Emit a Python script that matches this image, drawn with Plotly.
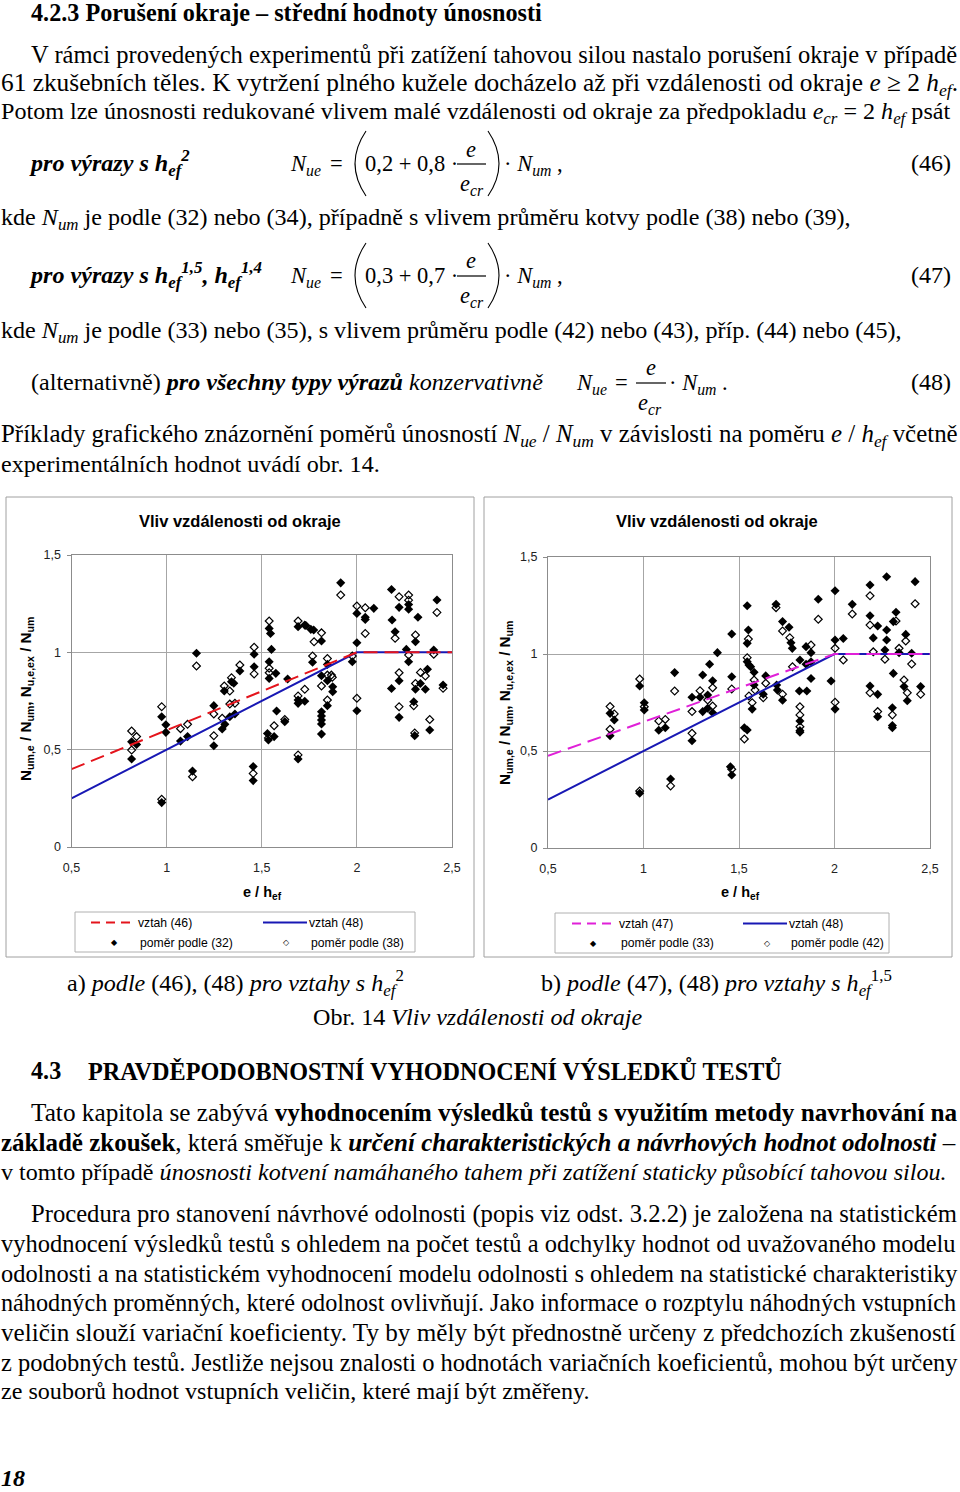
import plotly.graph_objects as go

W, H = 960, 1492
SERIF = "Liberation Serif"
SANS = "Liberation Sans"

# ---------------- data ----------------
X_TICKS = [0.5, 1, 1.5, 2, 2.5]
X_TICK_TEXT = ["0,5", "1", "1,5", "2", "2,5"]
Y_TICKS = [0, 0.5, 1, 1.5]
Y_TICK_TEXT = ["0", "0,5", "1", "1,5"]

LINE_X = [0.5, 2.0, 2.5]
LINE46_Y = [0.40, 1.0, 1.0]
LINE47_Y = [0.475, 1.0, 1.0]
LINE48_Y = [0.25, 1.0, 1.0]

# chart a) ratio according to (32)  (filled)
A32_X = [0.816, 0.816, 0.842, 0.974, 0.974, 0.996, 0.996, 1.073, 1.110, 1.157, 1.136, 1.248, 1.248,
         1.292, 1.306, 1.303, 1.341, 1.353, 1.332, 1.359, 1.385, 1.460, 1.460, 1.455, 1.455,
         1.915, 1.539, 1.546, 1.551, 1.539, 1.539, 1.574, 1.578, 1.565, 1.530, 1.535, 1.621, 1.636,
         1.691, 1.726, 1.732, 1.691, 1.691, 1.691, 1.726, 1.758, 1.773, 1.814, 1.767, 1.814, 1.814,
         1.814, 1.814, 1.814, 1.814, 1.845, 1.845, 1.845, 1.873, 1.873, 1.976, 2.000, 2.000, 2.000,
         2.044, 2.044, 2.089, 2.182, 2.222, 2.185, 2.201, 2.272, 2.272, 2.321, 2.308, 2.260, 2.272,
         2.222, 2.182, 2.222, 2.308, 2.334, 2.371, 2.360, 2.299, 2.304, 2.383, 2.404, 2.421, 2.453]
A32_Y = [0.541, 0.452, 0.527, 0.228, 0.669, 0.628, 0.589, 0.544, 0.567, 0.995, 0.390, 0.726, 0.520,
         0.606, 0.630, 0.801, 0.849, 0.841, 0.669, 0.683, 0.904, 0.990, 0.926, 0.413, 0.341,
         1.357, 1.123, 1.097, 1.015, 0.952, 0.866, 0.892, 0.699, 0.567, 0.583, 0.550, 0.644, 0.863,
         1.132, 1.140, 1.138, 0.755, 0.738, 0.452, 0.749, 1.118, 1.115, 1.058, 0.949, 0.880, 0.695,
         0.673, 0.652, 0.632, 0.580, 0.938, 0.854, 0.726, 0.823, 0.798, 0.952, 1.200, 1.049, 0.700,
         1.180, 1.169, 1.226, 1.323, 1.231, 1.166, 1.106, 1.246, 1.221, 1.180, 1.054, 1.015, 0.952,
         0.854, 0.814, 0.666, 0.810, 0.840, 0.913, 0.810, 0.746, 0.572, 0.601, 1.012, 1.269, 0.832]

# chart a) ratio according to (38)  (open)
A38_X = [0.816, 0.816, 0.842, 0.974, 0.974, 1.073, 1.110, 1.157, 1.136, 1.248, 1.248, 1.292, 1.303,
         1.332, 1.341, 1.332, 1.359, 1.385, 1.460, 1.460, 1.455,
         1.915, 1.539, 1.539, 1.539, 1.565, 1.535, 1.621, 1.691, 1.691, 1.691, 1.726, 1.775, 1.814,
         1.767, 1.814, 1.845, 1.845, 1.845, 1.866, 1.871, 1.976, 2.000, 2.000, 2.044, 2.044, 2.222,
         2.201, 2.272, 2.272, 2.308, 2.272, 2.222, 2.222, 2.308, 2.334, 2.360, 2.299, 2.304, 2.383,
         2.404, 2.421, 2.453]
A38_Y = [0.596, 0.498, 0.567, 0.245, 0.721, 0.608, 0.630, 0.930, 0.361, 0.683, 0.572, 0.661, 0.827,
         0.801, 0.870, 0.734, 0.738, 0.935, 1.026, 0.889, 0.378,
         1.294, 1.161, 0.918, 0.895, 0.623, 0.560, 0.655, 1.161, 0.776, 0.473, 0.810, 1.054, 1.100,
         0.981, 0.827, 0.968, 0.883, 0.755, 0.883, 0.872, 0.981, 1.238, 0.764, 1.229, 1.097, 1.286,
         1.072, 1.294, 1.268, 1.089, 0.986, 0.895, 0.721, 0.840, 0.897, 0.878, 0.726, 0.586, 0.655,
         0.990, 1.205, 0.815]

# chart b) ratio according to (33)  (filled)
B33_X = [0.825, 0.847, 0.825, 0.980, 1.004, 1.004, 0.980, 1.080, 1.114, 1.163, 1.142, 1.254, 1.254,
         1.310, 1.296, 1.310, 1.336, 1.336, 1.346, 1.362, 1.362, 1.387, 1.462, 1.462, 1.455, 1.462,
         1.543, 1.549, 1.543, 1.543, 1.552, 1.561, 1.579, 1.579, 1.569, 1.528, 1.543, 1.640, 1.627,
         1.694, 1.697, 1.701, 1.728, 1.762, 1.772, 1.779, 1.728, 1.819, 1.816, 1.855, 1.819, 1.819,
         1.819, 1.851, 1.851, 1.877, 1.877, 1.877, 1.915, 1.982, 2.003, 2.003, 2.003, 2.046, 2.093,
         2.186, 2.186, 2.203, 2.226, 2.273, 2.273, 2.273, 2.264, 2.322, 2.308, 2.338, 2.308, 2.186,
         2.226, 2.226, 2.303, 2.303, 2.303, 2.373, 2.404, 2.364, 2.381, 2.422, 2.451]
B33_Y = [0.694, 0.660, 0.579, 0.835, 0.749, 0.711, 0.282, 0.607, 0.620, 0.904, 0.356, 0.777, 0.553,
         0.892, 0.777, 0.703, 0.789, 0.720, 0.947, 0.862, 0.697, 1.007, 1.103, 0.883, 0.419, 0.376,
         1.249, 1.124, 1.055, 0.960, 0.943, 0.934, 0.906, 0.840, 0.716, 0.620, 0.608, 0.887, 0.793,
         1.256, 0.840, 0.814, 1.167, 1.138, 1.058, 1.029, 0.762, 0.969, 0.809, 0.809, 0.655, 0.605,
         0.597, 1.038, 0.947, 1.007, 0.960, 0.874, 1.282, 0.861, 1.326, 1.072, 0.716, 1.080, 1.256,
         1.356, 1.197, 1.083, 1.144, 1.398, 1.124, 1.072, 1.021, 1.215, 1.167, 1.007, 0.900, 0.835,
         0.792, 0.677, 0.723, 0.631, 0.620, 1.101, 1.004, 0.832, 0.759, 1.373, 0.832]

# chart b) ratio according to (42)  (open)
B42_X = [0.825, 0.847, 0.825, 0.980, 1.004, 0.980, 1.080, 1.114, 1.163, 1.142, 1.254, 1.254, 1.296,
         1.336, 1.362, 1.362, 1.462, 1.462,
         1.549, 1.543, 1.579, 1.584, 1.552, 1.569, 1.528, 1.640, 1.627, 1.694, 1.728, 1.766, 1.780,
         1.728, 1.819, 1.819, 1.819, 1.877, 1.915, 2.003, 2.003, 2.046, 2.093, 2.186, 2.186, 2.203,
         2.264, 2.322, 2.338, 2.186, 2.226, 2.303, 2.373, 2.404, 2.364, 2.381, 2.422, 2.451]
B42_Y = [0.729, 0.691, 0.612, 0.871, 0.728, 0.294, 0.655, 0.663, 0.809, 0.320, 0.703, 0.591, 0.811,
         0.763, 0.826, 0.732, 0.820, 0.406,
         1.077, 0.981, 0.866, 0.814, 0.784, 0.749, 0.562, 0.849, 0.775, 1.239, 1.119, 1.084, 0.934,
         0.793, 0.728, 0.686, 0.625, 1.046, 1.179, 1.029, 0.751, 0.969, 1.206, 1.300, 1.149, 1.011,
         0.973, 1.170, 1.029, 0.800, 0.703, 0.686, 1.067, 0.948, 0.866, 0.800, 1.259, 0.792]

CHART_TITLE = "Vliv vzdálenosti od okraje"
X_TITLE = "e / h<sub>ef</sub>"
Y_TITLE = "N<sub>um,e</sub> / N<sub>um</sub>, N<sub>u,e,ex</sub> / N<sub>um</sub>"
LEG_A = ["vztah (46)", "vztah (48)", "poměr podle (32)", "poměr podle (38)"]
LEG_B = ["vztah (47)", "vztah (48)", "poměr podle (33)", "poměr podle (42)"]

RED = "#e4141c"
BLUE = "#1818b4"
MAGENTA = "#e020d8"
GRID = "#a6a6a6"
AXIS = "#8c8c8c"
FS = 24.1   # body font size
FF = 22.5   # formula font size


# --------------- helpers -----------------
def px(x):
    return x / W


def py(y):
    return 1 - y / H


annotations = []
shapes = []


def txt(x, y, s, size=FS, anchor="left", family=SERIF, color="black", angle=0):
    annotations.append(dict(xref="paper", yref="paper", x=px(x), y=py(y), text=s,
                            showarrow=False, xanchor=anchor, yanchor="middle",
                            textangle=angle, borderpad=0,
                            font=dict(family=family, size=size, color=color)))


def hline(x0, x1, y, color="black", width=1.2, dash="solid"):
    shapes.append(dict(type="line", xref="paper", yref="paper", x0=px(x0), x1=px(x1),
                       y0=py(y), y1=py(y), line=dict(color=color, width=width, dash=dash)))


def rect(x0, y0, x1, y1, color="#a0a0a0", width=1):
    shapes.append(dict(type="rect", xref="paper", yref="paper", x0=px(x0), x1=px(x1),
                       y0=py(y0), y1=py(y1), line=dict(color=color, width=width)))


def paren(xa, xb, y0, y1):
    ym = (y0 + y1) / 2
    path = "M {:.5f},{:.5f} Q {:.5f},{:.5f} {:.5f},{:.5f}".format(
        px(xa), py(y0), px(2 * xb - xa), py(ym), px(xa), py(y1))
    shapes.append(dict(type="path", xref="paper", yref="paper", path=path,
                       line=dict(color="black", width=1.1)))


# --------------- figure -----------------
fig = go.Figure()

mk_f = dict(symbol="diamond", size=7, color="black", line=dict(width=0))
mk_o = dict(symbol="diamond-open", size=6, color="black", line=dict(width=1.2, color="black"))

fig.add_trace(go.Scatter(x=A32_X, y=A32_Y, mode="markers", marker=mk_f, xaxis="x", yaxis="y"))
fig.add_trace(go.Scatter(x=A38_X, y=A38_Y, mode="markers", marker=mk_o, xaxis="x", yaxis="y"))
fig.add_trace(go.Scatter(x=LINE_X, y=LINE48_Y, mode="lines", line=dict(color=BLUE, width=2),
                         xaxis="x", yaxis="y"))
fig.add_trace(go.Scatter(x=LINE_X, y=LINE46_Y, mode="lines",
                         line=dict(color=RED, width=2, dash="14px,7px"), xaxis="x", yaxis="y"))

fig.add_trace(go.Scatter(x=B33_X, y=B33_Y, mode="markers", marker=mk_f, xaxis="x2", yaxis="y2"))
fig.add_trace(go.Scatter(x=B42_X, y=B42_Y, mode="markers", marker=mk_o, xaxis="x2", yaxis="y2"))
fig.add_trace(go.Scatter(x=LINE_X, y=LINE48_Y, mode="lines", line=dict(color=BLUE, width=2),
                         xaxis="x2", yaxis="y2"))
fig.add_trace(go.Scatter(x=LINE_X, y=LINE47_Y, mode="lines",
                         line=dict(color=MAGENTA, width=2, dash="14px,7px"), xaxis="x2", yaxis="y2"))


def xax(domain, anchor):
    return dict(domain=domain, anchor=anchor, range=[0.5, 2.5], tickvals=X_TICKS,
                ticktext=X_TICK_TEXT, showgrid=True, gridcolor=GRID, gridwidth=1,
                showline=True, linecolor=AXIS, linewidth=1, mirror=True, ticks="",
                ticklabelstandoff=9, zeroline=False, fixedrange=True, automargin=False,
                tickfont=dict(family=SANS, size=12.5, color="#222"))


def yax(domain, anchor):
    return dict(domain=domain, anchor=anchor, range=[0, 1.5], tickvals=Y_TICKS,
                ticktext=Y_TICK_TEXT, showgrid=True, gridcolor=GRID, gridwidth=1,
                showline=True, linecolor=AXIS, linewidth=1, mirror=True, ticks="outside",
                ticklen=4, tickcolor=AXIS, ticklabelstandoff=3, zeroline=False, fixedrange=True,
                automargin=False, tickfont=dict(family=SANS, size=12.5, color="#222"))


fig.update_layout(
    width=W, height=H, autosize=False,
    margin=dict(l=0, r=0, t=0, b=0, pad=0, autoexpand=False),
    paper_bgcolor="white", plot_bgcolor="white", showlegend=False,
    xaxis=xax([71.5 / W, 452 / W], "y"),
    yaxis=yax([1 - 847 / H, 1 - 555 / H], "x"),
    xaxis2=xax([548 / W, 930 / W], "y2"),
    yaxis2=yax([1 - 848 / H, 1 - 557 / H], "x2"),
)

# chart frames
rect(6, 497, 474, 957)
rect(484, 497, 952, 957)

# chart titles / axis titles
for cx in [240, 717]:
    txt(cx, 521, "<b>" + CHART_TITLE + "</b>", size=16.5, anchor="center", family=SANS)
for cx in [262, 740]:
    txt(cx, 893, "<b>" + X_TITLE + "</b>", size=14.5, anchor="center", family=SANS)
txt(26, 699, "<b>" + Y_TITLE + "</b>", size=15.2, anchor="center", family=SANS, angle=-90)
txt(505, 703, "<b>" + Y_TITLE + "</b>", size=15.2, anchor="center", family=SANS, angle=-90)


# legends
def legend(x0, x1, y0, y1, dash_col, lx, labels):
    rect(x0, y0, x1, y1, color="#b0b0b0")
    r1 = y0 + 10.5
    r2 = y0 + 30.5
    hline(lx[0], lx[1], r1, color=dash_col, width=2, dash="9px,6px")
    txt(lx[1] + 1, r1, labels[0], size=12.2, family=SANS)
    hline(lx[2], lx[3], r1, color=BLUE, width=2)
    txt(lx[3] + 1, r1, labels[1], size=12.2, family=SANS)
    txt(lx[4], r2, "◆", size=8, anchor="center", family="DejaVu Sans")
    txt(lx[1] + 3, r2, labels[2], size=12.2, family=SANS)
    txt(lx[5], r2, "◇", size=8, anchor="center", family="DejaVu Sans")
    txt(lx[3] + 3, r2, labels[3], size=12.2, family=SANS)


legend(75, 415, 912, 952, RED, [91, 136, 263, 307, 114, 286], LEG_A)
legend(555, 889, 913, 953, MAGENTA, [572, 617, 743, 787, 593, 767], LEG_B)

# ---------------- page text ----------------
txt(30, 13, "<b>4.2.3 Porušení okraje – střední hodnoty únosnosti</b>", size=24.2)
txt(30, 54, "V rámci provedených experimentů při zatížení tahovou silou nastalo porušení okraje "
            "v případě", size=24.5)
txt(0, 84, "61 zkušebních těles. K vytržení plného kužele docházelo až při vzdálenosti od okraje "
           "<i>e</i> ≥ 2 <i>h<sub>ef</sub></i>.", size=25.35)
txt(0, 113, "Potom lze únosnosti redukované vlivem malé vzdálenosti od okraje za předpokladu "
            "<i>e<sub>cr</sub></i> = 2 <i>h<sub>ef</sub></i> psát", size=24.1)

# formula (46)
txt(28, 163, "<b><i>pro výrazy s h<sub>ef</sub><sup>2</sup></i></b>")
txt(289, 165, "<i>N<sub>ue</sub></i>", size=FF)
txt(329, 163, "=", size=FF)
paren(366, 355, 131, 196)
txt(364, 163, "0,2 + 0,8 ·", size=FF)
txt(471, 149, "<i>e</i>", anchor="center", size=FF)
hline(457, 486, 164)
txt(459, 185, "<i>e<sub>cr</sub></i>", size=FF)
paren(488, 499, 131, 196)
txt(503, 165, "· <i>N<sub>um</sub></i> ,", size=FF)
txt(952, 163, "(46)", anchor="right")

txt(0, 219, "kde <i>N<sub>um</sub></i> je podle (32) nebo (34), případně s vlivem průměru kotvy "
            "podle (38) nebo (39),")

# formula (47)
txt(28, 275, "<b><i>pro výrazy s h<sub>ef</sub><sup>1,5</sup>, h<sub>ef</sub><sup>1,4</sup></i></b>")
txt(289, 277, "<i>N<sub>ue</sub></i>", size=FF)
txt(329, 275, "=", size=FF)
paren(366, 355, 243, 308)
txt(364, 275, "0,3 + 0,7 ·", size=FF)
txt(471, 261, "<i>e</i>", anchor="center", size=FF)
hline(457, 486, 276)
txt(459, 297, "<i>e<sub>cr</sub></i>", size=FF)
paren(488, 499, 243, 308)
txt(503, 277, "· <i>N<sub>um</sub></i> ,", size=FF)
txt(952, 275, "(47)", anchor="right")

txt(0, 332, "kde <i>N<sub>um</sub></i> je podle (33) nebo (35), s vlivem průměru podle (42) nebo "
            "(43), příp. (44) nebo (45),")

# formula (48)
txt(30, 382, "(alternativně) <b><i>pro všechny typy výrazů</i></b> <i>konzervativně</i>")
txt(575, 384, "<i>N<sub>ue</sub></i>", size=FF)
txt(614, 382, "=", size=FF)
txt(651, 368, "<i>e</i>", anchor="center", size=FF)
hline(636, 666, 383)
txt(637, 404, "<i>e<sub>cr</sub></i>", size=FF)
txt(668, 384, "· <i>N<sub>um</sub></i> .", size=FF)
txt(952, 382, "(48)", anchor="right")

txt(0, 435, "Příklady grafického znázornění poměrů únosností <i>N<sub>ue</sub></i> / "
            "<i>N<sub>um</sub></i> v závislosti na poměru <i>e</i> / <i>h<sub>ef</sub></i> včetně",
    size=24.9)
txt(0, 464, "experimentálních hodnot uvádí obr. 14.")

# captions
txt(66, 983, "a) <i>podle</i> (46), (48) <i>pro vztahy s h<sub>ef</sub></i><sup>2</sup>")
txt(540, 983, "b) <i>podle</i> (47), (48) <i>pro vztahy s h<sub>ef</sub></i><sup>1,5</sup>")
txt(478, 1017, "Obr. 14 <i>Vliv vzdálenosti od okraje</i>", anchor="center")

txt(30, 1070, "<b>4.3</b>", size=24.2)
txt(87, 1070, "<b>PRAVDĚPODOBNOSTNÍ VYHODNOCENÍ VÝSLEDKŮ TESTŮ</b>", size=24.2)

txt(30, 1112, "Tato kapitola se zabývá <b>vyhodnocením výsledků testů s využitím metody "
              "navrhování na</b>", size=25.25)
txt(0, 1142, "<b>základě zkoušek</b>, která směřuje k <b><i>určení charakteristických a návrhových "
             "hodnot odolnosti</i></b> –", size=25.0)
txt(0, 1172, "v tomto případě <i>únosnosti kotvení namáhaného tahem při zatížení staticky "
             "působící tahovou silou.</i>")

txt(30, 1214, "Procedura pro stanovení návrhové odolnosti (popis viz odst. 3.2.2) je založena na "
              "statistickém", size=24.65)
txt(0, 1243, "vyhodnocení výsledků testů s ohledem na počet testů a odchylky hodnot od "
             "uvažovaného modelu", size=24.5)
txt(0, 1273, "odolnosti a na statistickém vyhodnocení modelu odolnosti s ohledem na statistické "
             "charakteristiky", size=24.38)
txt(0, 1302, "náhodných proměnných, které odolnost ovlivňují. Jako informace o rozptylu "
             "náhodných vstupních", size=24.23)
txt(0, 1332, "veličin slouží variační koeficienty. Ty by měly být přednostně určeny z "
             "předchozích zkušeností", size=25.15)
txt(0, 1362, "z podobných testů. Jestliže nejsou znalosti o hodnotách variačních koeficientů, "
             "mohou být určeny", size=24.5)
txt(0, 1391, "ze souborů hodnot vstupních veličin, které mají být změřeny.")

txt(0, 1478, "<b><i>18</i></b>")

fig.update_layout(annotations=annotations, shapes=shapes)
fig.write_html(
    "out.html",
    config={"displayModeBar": False},
    post_script="document.documentElement.style.margin='0';"
                "document.body.style.margin='0';document.body.style.overflow='hidden';",
)
